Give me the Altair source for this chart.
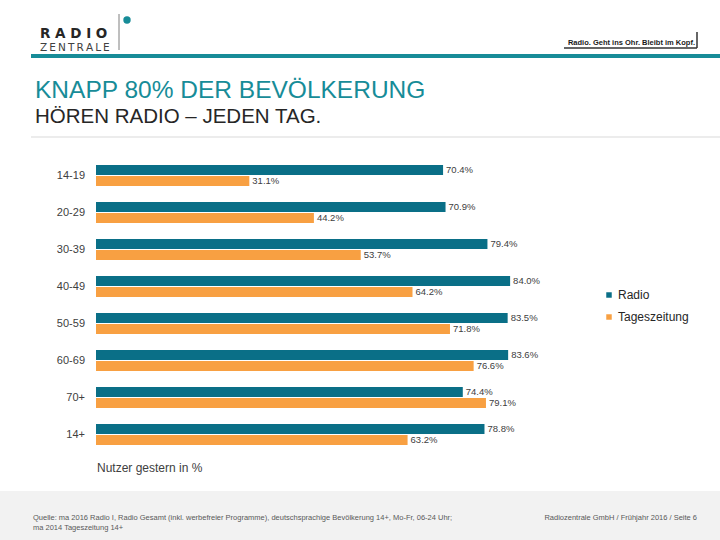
import altair as alt
import pandas as pd

categories = ["14-19", "20-29", "30-39", "40-49", "50-59", "60-69", "70+", "14+"]
series = ["Radio", "Tageszeitung"]
radio = [70.4, 70.9, 79.4, 84.0, 83.5, 83.6, 74.4, 78.8]
tageszeitung = [31.1, 44.2, 53.7, 64.2, 71.8, 76.6, 79.1, 63.2]

TEAL_BAR = "#0A6F87"
TEAL = "#178C98"
ORANGE = "#F8A042"
FONT = "Liberation Sans"

df = pd.DataFrame({
    "Altersgruppe": categories * 2,
    "Medium": [series[0]] * len(categories) + [series[1]] * len(categories),
    "Wert": radio + tageszeitung,
})
df["Label"] = df["Wert"].map(lambda v: f"{v:.1f}%")
cats = pd.DataFrame({"Altersgruppe": categories})

yscale = alt.Scale(domain=categories, range=[157, 453], paddingInner=0.4324, paddingOuter=0.2162)
xscale = alt.Scale(domain=[0, 100], range=[96, 589])
y_enc = alt.Y("Altersgruppe:N", sort=categories, scale=yscale, axis=None)
yoff = alt.YOffset("Medium:N", sort=series, scale=alt.Scale(domain=series, paddingInner=0.1, paddingOuter=0))
x_enc = alt.X("Wert:Q", scale=xscale, axis=None)

bars = alt.Chart(df).mark_bar().encode(
    x=x_enc,
    y=y_enc,
    yOffset=yoff,
    color=alt.Color("Medium:N", sort=series,
                    scale=alt.Scale(domain=series, range=[TEAL_BAR, ORANGE]),
                    legend=alt.Legend(orient="none", legendX=603, legendY=289, title=None,
                                      symbolType="square", symbolSize=30, symbolStrokeWidth=0,
                                      labelFontSize=12, labelFont=FONT, labelColor="#262626",
                                      rowPadding=10, labelOffset=3, padding=0)),
)

bar_labels = alt.Chart(df).mark_text(align="left", baseline="middle", dx=3, fontSize=9.5,
                                     font=FONT, color="#404040").encode(
    x=x_enc, y=y_enc, yOffset=yoff, text="Label:N"
)

cat_labels = alt.Chart(cats).mark_text(align="right", baseline="middle", fontSize=11,
                                       font=FONT, color="#404040").encode(
    x=alt.value(85), y=y_enc, text="Altersgruppe:N"
)

one = alt.Data(values=[{"d": 1}])


def txt(s, x, y, size, color, align="left", weight="normal", font=FONT):
    return alt.Chart(one).mark_text(text=s, align=align, baseline="alphabetic", fontSize=size,
                                    font=font, fontWeight=weight, color=color).encode(
        x=alt.value(x), y=alt.value(y))


def rule(x, x2, y, y2, color, w):
    return alt.Chart(one).mark_rule(color=color, strokeWidth=w).encode(
        x=alt.value(x), x2=alt.value(x2), y=alt.value(y), y2=alt.value(y2))


footer_bg = alt.Chart(one).mark_rect(color="#F2F2F2").encode(
    x=alt.value(0), x2=alt.value(720), y=alt.value(491), y2=alt.value(540))

dot = alt.Chart(one).mark_circle(size=55, color=TEAL, opacity=1).encode(
    x=alt.value(127), y=alt.value(20))

sp = "\u2009"
layers = [
    footer_bg,
    rule(31, 720, 56, 56, TEAL, 4),
    rule(31, 720, 137, 137, "#D9D9D9", 1),
    rule(119, 119, 14, 50, "#7F7F7F", 1),
    rule(564, 697, 48, 48, "#333333", 1.5),
    rule(697, 697, 32, 48, "#333333", 1.5),
    dot,
    txt(" ".join("RADIO"), 40, 38, 13.5, "#262626", weight="bold", font="DejaVu Sans"),
    txt(sp.join("ZENTRALE"), 40, 51, 10.5, "#404040", font="DejaVu Sans"),
    txt("Radio. Geht ins Ohr. Bleibt im Kopf.", 695, 45, 7.5, "#1A1A1A", align="right", weight="bold"),
    txt("KNAPP 80% DER BEVÖLKERUNG", 35, 98, 24.5, TEAL),
    txt("HÖREN RADIO – JEDEN TAG.", 35, 123, 20.5, "#262626"),
    txt("Nutzer gestern in %", 97, 472, 12, "#404040"),
    txt("Quelle: ma 2016 Radio I, Radio Gesamt (inkl. werbefreier Programme), deutschsprachige Bevölkerung 14+, Mo-Fr, 06-24 Uhr;",
        33, 520, 7.5, "#595959"),
    txt("ma 2014 Tageszeitung 14+", 33, 530, 7.5, "#595959"),
    txt("Radiozentrale GmbH / Frühjahr 2016 / Seite 6", 697, 520, 7.5, "#595959", align="right"),
    bars,
    bar_labels,
    cat_labels,
]

chart = alt.layer(*layers).properties(
    width=720, height=540, padding=0,
    autosize=alt.AutoSizeParams(type="none"),
).configure_view(stroke=None)

chart.save("out.html", embed_options={"renderer": "svg", "actions": False})
